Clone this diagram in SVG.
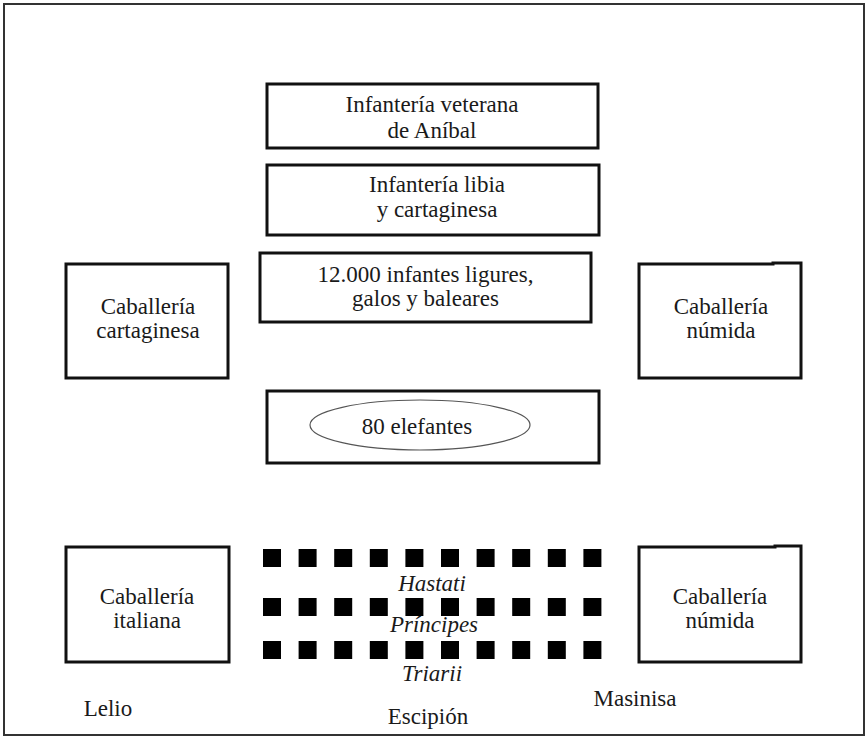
<svg xmlns="http://www.w3.org/2000/svg" width="868" height="737" viewBox="0 0 868 737">
<style>
.box{fill:#fff;stroke:#111;stroke-width:3}
.t{font-family:'Liberation Serif','DejaVu Serif',serif;font-size:23px;fill:#1a1a1a;text-anchor:middle}
.i{font-style:italic}
.sq{fill:#000}
</style>
<defs>
<rect id="s" width="18" height="18" class="sq"/>
<g id="row">
<use href="#s" x="0"/><use href="#s" x="35.6"/><use href="#s" x="71.2"/><use href="#s" x="106.8"/><use href="#s" x="142.4"/><use href="#s" x="178"/><use href="#s" x="213.6"/><use href="#s" x="249.2"/><use href="#s" x="284.8"/><use href="#s" x="320.4"/>
</g>
</defs>
<rect x="0" y="0" width="868" height="737" fill="#fff"/>
<rect id="frame" x="4" y="4" width="860" height="731" fill="none" stroke="#333" stroke-width="2"/>
<g id="connectors"></g>
<g font-family="'Liberation Serif', 'DejaVu Serif', serif">
<g id="veterana">
<rect class="box" x="267" y="84" width="331" height="64"/>
<text class="t" x="432" y="112">Infantería veterana</text>
<text class="t" x="432" y="138">de Aníbal</text>
</g>
<g id="libia">
<rect class="box" x="267" y="165" width="332" height="70"/>
<text class="t" x="437" y="192">Infantería libia</text>
<text class="t" x="437" y="217">y cartaginesa</text>
</g>
<g id="ligures">
<rect class="box" x="260" y="253" width="331" height="69"/>
<text class="t" x="425.5" y="282">12.000 infantes ligures,</text>
<text class="t" x="425.5" y="306">galos y baleares</text>
</g>
<g id="cab-cartaginesa">
<rect class="box" x="66" y="264" width="162" height="114"/>
<text class="t" x="148" y="314">Caballería</text>
<text class="t" x="148" y="338">cartaginesa</text>
</g>
<g id="cab-numida-1">
<path d="M639 264 H773 V263 H801 V378 H639 Z" class="box"/>
<text class="t" x="721" y="314">Caballería</text>
<text class="t" x="721" y="338">númida</text>
</g>
<g id="elefantes">
<rect class="box" x="267" y="391" width="332" height="72"/>
<ellipse cx="420" cy="425" rx="110" ry="25" fill="none" stroke="#555" stroke-width="1.2"/>
<text class="t" x="417" y="434">80 elefantes</text>
</g>
<g id="cab-italiana">
<rect class="box" x="66" y="547" width="163" height="115"/>
<text class="t" x="147" y="604">Caballería</text>
<text class="t" x="147" y="628">italiana</text>
</g>
<g id="cab-numida-2">
<path d="M639 547 H775 V546 H801 V662 H639 Z" class="box"/>
<text class="t" x="720" y="604">Caballería</text>
<text class="t" x="720" y="628">númida</text>
</g>
<g id="legion">
<use href="#row" x="263" y="549"/>
<use href="#row" x="263" y="598"/>
<use href="#row" x="263" y="641"/>
<text class="t i" x="432" y="591">Hastati</text>
<text class="t i" x="434" y="632">Príncipes</text>
<text class="t i" x="432" y="681">Triarii</text>
</g>
<g id="labels">
<text class="t" x="108" y="716">Lelio</text>
<text class="t" x="428" y="724">Escipión</text>
<text class="t" x="635" y="706">Masinisa</text>
</g>
</g>
</svg>
